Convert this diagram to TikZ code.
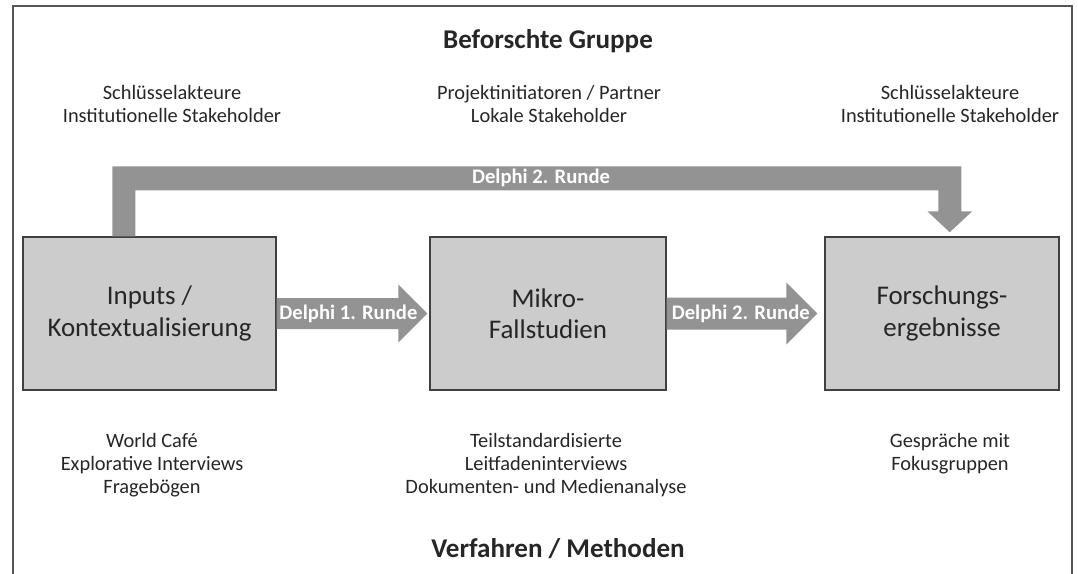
\documentclass[tikz,border=0pt]{standalone}
\usepackage{fontspec}
\setmainfont{Carlito}
\usepackage{tikz}
\usetikzlibrary{calc}
\definecolor{boxfill}{HTML}{CCCCCC}
\definecolor{boxline}{HTML}{404040}
\definecolor{flow}{HTML}{939393}
\definecolor{txt}{HTML}{262626}
\definecolor{rahmen}{HTML}{555555}

\begin{document}
\begin{tikzpicture}[x=0.75pt,y=-0.75pt,font=\fontsize{15.3}{17.25}\selectfont,
  stage/.style={draw=boxline,line width=1.1pt,fill=boxfill,inner sep=0pt,minimum height=114.75pt,
    align=center,text=txt,font=\fontsize{20.2}{23.5}\selectfont},
  actors/.style={align=center,text=txt},
  heading/.style={text=txt,font=\fontsize{20.3}{24}\selectfont\bfseries},
  delphi/.style={text=white,font=\fontsize{15.5}{18}\selectfont\bfseries,inner sep=0pt}]
\useasboundingbox (0,0) rectangle (1078,574);
\draw[rahmen,line width=1pt] (13,574) -- (13,6) -- (1072,6) -- (1072,574);
\node[heading] (top) at (548,41) {Beforschte Gruppe};
\node[heading] (bottom) at (558,549) {Verfahren / Methoden};
\node[stage,minimum width=189.75pt] (inp) at (149.5,313.5) {Inputs /\\Kontextualisierung};
\node[stage,minimum width=177pt] (mik) at (548,313.5) {Mikro-\\Fallstudien};
\node[stage,minimum width=175.5pt] (erg) at (942,313.5) {Forschungs-\\ergebnisse};
\node[actors] (akt1) at (172,103.5) {Schlüsselakteure\\Institutionelle Stakeholder};
\node[actors] (akt2) at (549,103.5) {Projektinitiatoren / Partner\\Lokale Stakeholder};
\node[actors] (akt3) at (950,103.5) {Schlüsselakteure\\Institutionelle Stakeholder};
\node[actors] (met1) at (152,465) {World Café\\Explorative Interviews\\Fragebögen};
\node[actors] (met2) at (546,465) {Teilstandardisierte\\Leitfadeninterviews\\Dokumenten- und Medienanalyse};
\node[actors] (met3) at (950,453.5) {Gespräche mit\\Fokusgruppen};
\fill[flow] ($(inp.east)+(0,-15.5)$) -| ($(mik.west)+(-31,-29)$) -- ($(mik.west)+(-2,0)$)
  -- ($(mik.west)+(-31,29)$) |- ($(inp.east)+(0,15.5)$) -- cycle;
\node[delphi] (d1) at ($(inp.east)!0.47!(mik.west)$) {Delphi 1. Runde};
\fill[flow] ($(mik.east)+(0,-16)$) -| ($(erg.west)+(-38,-31)$) -- ($(erg.west)+(-7,0)$)
  -- ($(erg.west)+(-38,31)$) |- ($(mik.east)+(0,16)$) -- cycle;
\node[delphi] (d2) at ($(mik.east)!0.47!(erg.west)$) {Delphi 2. Runde};
\fill[flow] ($(inp.north west)+(90,0)$) -- ++(0,-70) -| ($(erg.north west)+(137,-25)$) -- ++(11,0)
  -- ($(erg.north west)+(125.5,-4)$) -- ($(erg.north west)+(103,-25)$) -- ++(11,0)
  |- ($(inp.north west)+(113,-46)$) -- ++(0,46) -- cycle;
\node[delphi] (d2top) at ($(inp.north west)!0.5!(erg.north east)+(0,-58)$) {Delphi 2. Runde};
\end{tikzpicture}
\end{document}
